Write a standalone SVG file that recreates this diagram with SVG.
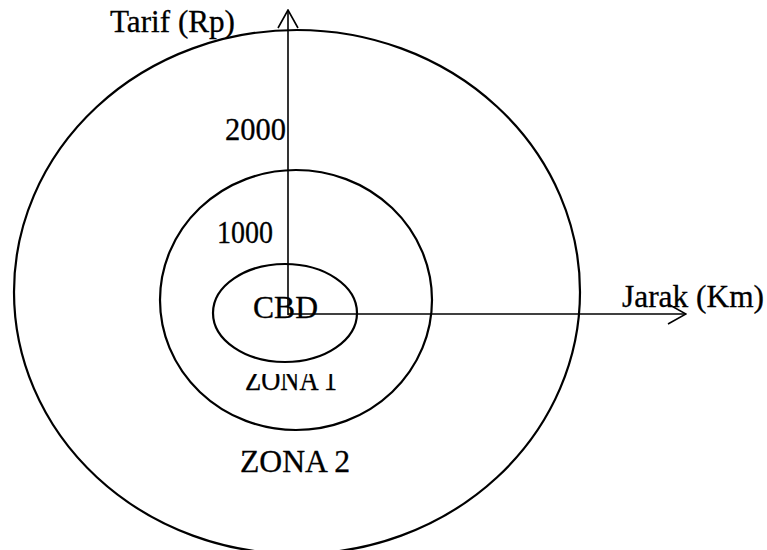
<svg xmlns="http://www.w3.org/2000/svg" width="767" height="550" viewBox="0 0 767 550">
<style>
.zone{fill:none;stroke:#000;stroke-width:2.2}
.axis{fill:none;stroke:#000;stroke-width:1.6}
text{font-family:"Liberation Serif","Times New Roman",serif;font-size:31px;fill:#000;stroke:#000;stroke-width:0.3}
</style>
<defs>
<marker id="arr" viewBox="0 0 20 22" refX="19" refY="11" markerWidth="20" markerHeight="22" markerUnits="userSpaceOnUse" orient="auto">
<path d="M1,1 L19,11 L1,21" fill="none" stroke="#000" stroke-width="1.6"/>
</marker>
<clipPath id="z1clip"><rect x="230" y="374" width="130" height="30"/></clipPath>
</defs>
<rect width="767" height="550" fill="#fff"/>
<g id="zona2">
<ellipse class="zone" cx="297" cy="292" rx="283" ry="262"/>
<text x="240" y="472" textLength="110" lengthAdjust="spacingAndGlyphs">ZONA 2</text>
</g>
<g id="zona1">
<ellipse class="zone" cx="296" cy="300" rx="136" ry="130"/>
<text x="245" y="390" textLength="92" lengthAdjust="spacingAndGlyphs" clip-path="url(#z1clip)">ZONA 1</text>
</g>
<g id="cbd">
<ellipse class="zone" cx="285" cy="313" rx="72" ry="49"/>
<text x="253" y="318" textLength="65" lengthAdjust="spacingAndGlyphs">CBD</text>
</g>
<g id="connectors">
<line class="axis" x1="288" y1="315" x2="288" y2="10" marker-end="url(#arr)"/>
<line class="axis" x1="288" y1="314" x2="686" y2="314" marker-end="url(#arr)"/>
</g>
<g id="labels">
<text x="110" y="32" textLength="125" lengthAdjust="spacingAndGlyphs">Tarif (Rp)</text>
<text x="225" y="140" textLength="61" lengthAdjust="spacingAndGlyphs">2000</text>
<text x="217" y="243" textLength="56" lengthAdjust="spacingAndGlyphs">1000</text>
<text x="622" y="307" textLength="142" lengthAdjust="spacingAndGlyphs">Jarak (Km)</text>
</g>
</svg>
